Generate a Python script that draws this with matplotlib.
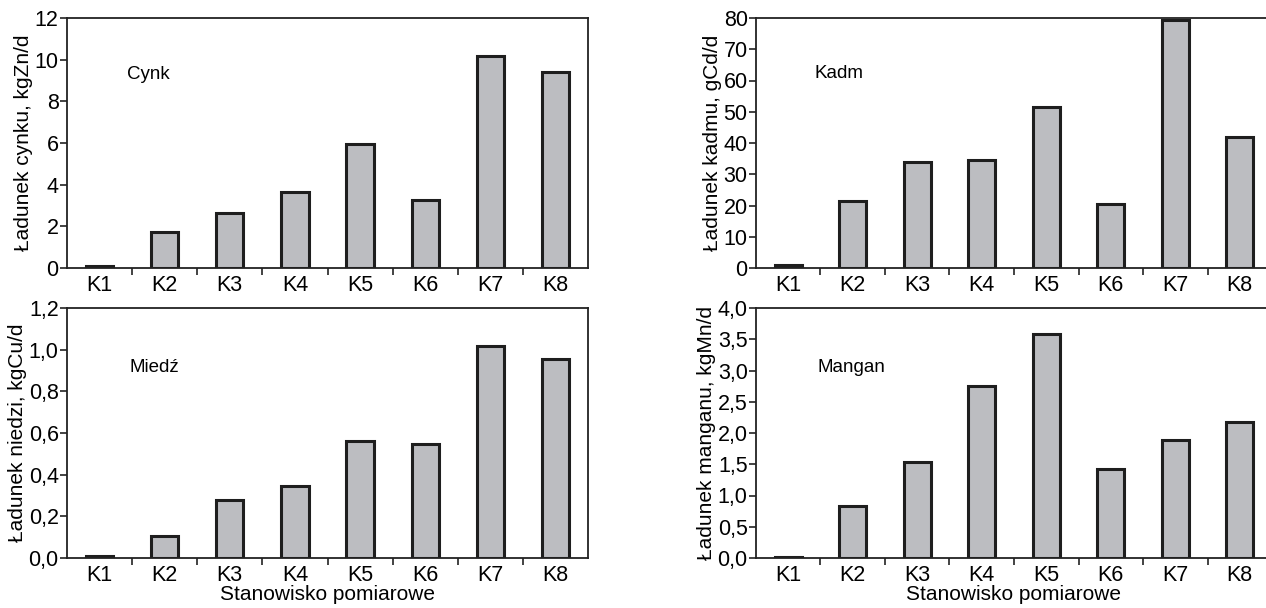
import matplotlib
matplotlib.use("Agg")
from matplotlib import pyplot as plt

plt.rcParams['font.family'] = ['Liberation Sans', 'DejaVu Sans']

stations = ["K1", "K2", "K3", "K4", "K5", "K6", "K7", "K8"]

# ladunki metali na stanowiskach
cynk = [0.1, 1.75, 2.65, 3.65, 5.95, 3.25, 10.2, 9.4]
kadm = [1.0, 21.5, 34.0, 34.5, 51.5, 20.5, 79.5, 42.0]
miedz = [0.01, 0.105, 0.28, 0.345, 0.56, 0.545, 1.02, 0.955]
mangan = [0.02, 0.84, 1.53, 2.75, 3.58, 1.43, 1.89, 2.18]

cynk_ticks = [0, 2, 4, 6, 8, 10, 12]
kadm_ticks = [0, 10, 20, 30, 40, 50, 60, 70, 80]
miedz_ticks = [0.0, 0.2, 0.4, 0.6, 0.8, 1.0, 1.2]
mangan_ticks = [0.0, 0.5, 1.0, 1.5, 2.0, 2.5, 3.0, 3.5, 4.0]

W, H = 1266, 608
fig = plt.figure(figsize=(W / 100, H / 100), dpi=100)


def px_axes(x0, y0, x1, y1):
    # pixel box -> figure fraction
    return fig.add_axes([x0 / W, 1 - y1 / H, (x1 - x0) / W, (y1 - y0) / H])


def draw_panel(ax, values, ticks, ylabel, name, name_xy, decimals, xlabel=None):
    x = list(range(len(stations)))
    ax.bar(x, values, width=0.42, color="#bcbdc1", edgecolor="#1e1e1e", linewidth=2.2, zorder=2)
    ax.set_xlim(-0.5, len(stations) - 0.5)
    ax.set_ylim(ticks[0], ticks[-1])
    ax.set_yticks(ticks)
    if decimals:
        ax.set_yticklabels([("%.1f" % t).replace(".", ",") for t in ticks])
    else:
        ax.set_yticklabels([str(t) for t in ticks])
    ax.set_xticks(x)
    ax.set_xticklabels(stations)
    ax.set_xticks([i + 0.5 for i in range(len(stations) - 1)], minor=True)
    ax.tick_params(axis="x", which="major", length=0, labelsize=15.5, pad=5)
    ax.tick_params(axis="x", which="minor", length=5, width=1.2, direction="out", color="#222222")
    ax.tick_params(axis="y", length=5, width=1.2, labelsize=15.5, pad=1, color="#222222")
    for s in ax.spines.values():
        s.set_linewidth(1.3)
        s.set_color("#222222")
    ax.set_ylabel(ylabel, fontsize=15, labelpad=1)
    if xlabel:
        ax.set_xlabel(xlabel, fontsize=15, labelpad=-1)
    ax.text(name_xy[0], name_xy[1], name, transform=ax.transAxes, fontsize=13.5, va="center")


ax1 = px_axes(67, 18, 588, 268)
draw_panel(ax1, cynk, cynk_ticks, "Ładunek cynku, kgZn/d", "Cynk", (0.115, 0.775), False)

ax2 = px_axes(756, 18, 1272, 268)
draw_panel(ax2, kadm, kadm_ticks, "Ładunek kadmu, gCd/d", "Kadm", (0.114, 0.78), False)

ax3 = px_axes(67, 308, 588, 558)
draw_panel(ax3, miedz, miedz_ticks, "Ładunek niedzi, kgCu/d", "Miedź", (0.12, 0.76), True,
           "Stanowisko pomiarowe")

ax4 = px_axes(756, 308, 1272, 558)
draw_panel(ax4, mangan, mangan_ticks, "Ładunek manganu, kgMn/d", "Mangan", (0.12, 0.76), True,
           "Stanowisko pomiarowe")

fig.savefig("out.png", dpi=100)
